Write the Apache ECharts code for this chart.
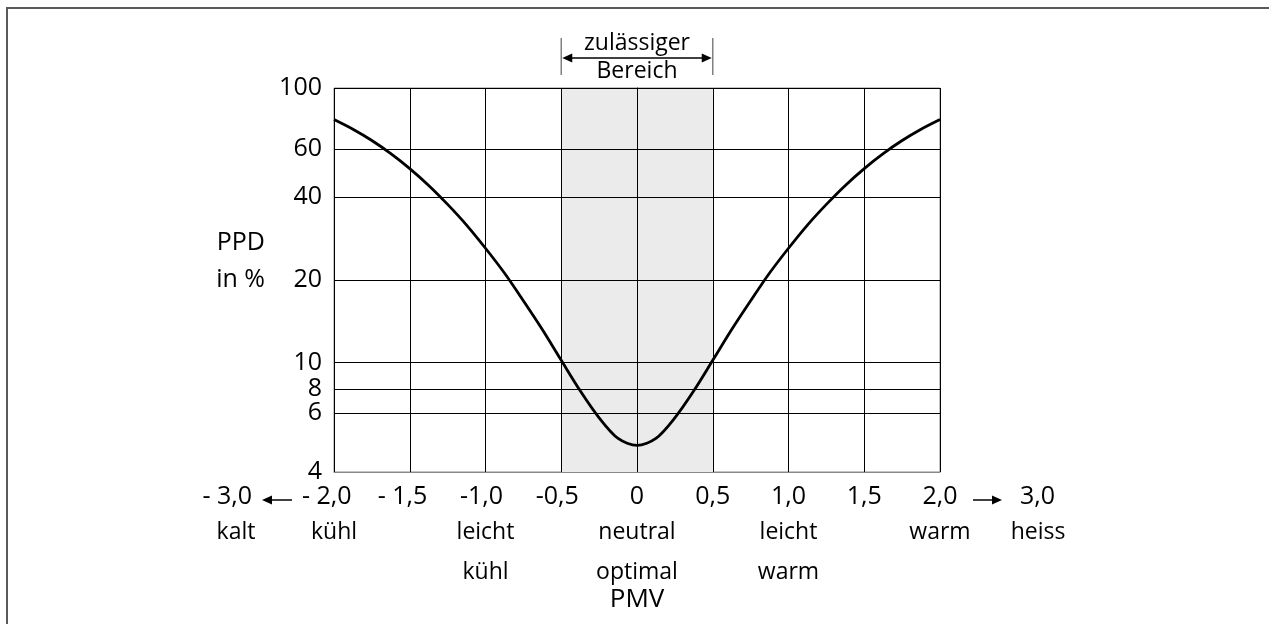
<!DOCTYPE html>
<html><head><meta charset="utf-8">
<script src="https://cdn.jsdelivr.net/npm/echarts@6/dist/echarts.min.js"></script>
<style>html,body{margin:0;padding:0;background:#fff}#c{width:1269px;height:624px}</style>
</head><body><div id="c"></div>
<script>
// ---- data ----
const pmv = [-2, -1.875, -1.75, -1.625, -1.5, -1.375, -1.25, -1.125, -1, -0.875, -0.75, -0.625, -0.5, -0.375, -0.25, -0.125, 0,
             0.125, 0.25, 0.375, 0.5, 0.625, 0.75, 0.875, 1, 1.125, 1.25, 1.375, 1.5, 1.625, 1.75, 1.875, 2];
const ppd = [76.8, 70.8, 64.4, 57.7, 50.9, 44.2, 37.7, 31.7, 26.1, 21.2, 16.8, 13.2, 10.2, 7.9, 6.3, 5.3, 5.0,
             5.3, 6.3, 7.9, 10.2, 13.2, 16.8, 21.2, 26.1, 31.7, 37.7, 44.2, 50.9, 57.7, 64.4, 70.8, 76.8];
const xTickValues = [-2, -1.5, -1, -0.5, 0, 0.5, 1, 1.5, 2];
const xTickLabels = ['- 2,0', '- 1,5', '-1,0', '-0,5', '0', '0,5', '1,0', '1,5', '2,0'];
const xTickWords  = [['kühl'], [], ['leicht', 'kühl'], [], ['neutral', 'optimal'], [], ['leicht', 'warm'], [], ['warm']];
const xOuterLeft  = ['- 3,0', 'kalt'];
const xOuterRight = ['3,0', 'heiss'];
const yTickValues = [4, 6.55, 8, 10, 20, 40, 60, 100];
const yTickLabels = ['4', '6', '8', '10', '20', '40', '60', '100'];
const bandRange = [-0.5, 0.5];
const bandText = ['zulässiger', 'Bereich'];
const yNameLines = ['PPD', 'in %'];
const xName = 'PMV';

// ---- chart ----
const FONT = '"Open Sans", "Noto Sans", sans-serif';
const NUM = 25, WORD = 23;
const cv = document.createElement('canvas').getContext('2d');
cv.font = NUM + 'px "Open Sans"';
const wDash = cv.measureText('-').width;
const wDashSp = cv.measureText('- ').width;

const chart = echarts.init(document.getElementById('c'), null, {renderer: 'canvas'});
const seriesData = pmv.map((x, i) => [x, ppd[i]]);

function xLabel(value) {
  const i = xTickValues.findIndex(v => Math.abs(v - value) < 1e-6);
  if (i < 0) return '';
  const lab = xTickLabels[i];
  let first;
  if (lab.startsWith('- ')) first = '{p2|' + lab + '}';
  else if (lab.startsWith('-')) first = '{p1|' + lab + '}';
  else first = '{n|' + lab + '}';
  const words = xTickWords[i].map(w => '{w|' + w + '}');
  return [first].concat(words).join('\n');
}

chart.setOption({
  animation: false,
  backgroundColor: '#fff',
  textStyle: {fontFamily: FONT},
  grid: {left: 334, right: 329, top: 88, bottom: 152, show: true, borderColor: '#888', borderWidth: 1, backgroundColor: 'transparent'},
  xAxis: {
    type: 'value', min: -2, max: 2, interval: 0.5, z: 3,
    axisLine: {show: true, lineStyle: {color: '#888', width: 1}},
    axisTick: {show: false},
    splitLine: {show: true, lineStyle: {color: '#000', width: 1}},
    axisLabel: {
      margin: 10, color: '#000', fontFamily: FONT,
      formatter: xLabel,
      rich: {
        n: {fontSize: NUM, lineHeight: 30, fontFamily: FONT, color: '#000'},
        p1: {fontSize: NUM, lineHeight: 30, fontFamily: FONT, color: '#000', padding: [0, wDash, 0, 0]},
        p2: {fontSize: NUM, lineHeight: 30, fontFamily: FONT, color: '#000', padding: [0, wDashSp, 0, 0]},
        w: {fontSize: WORD, lineHeight: 40, fontFamily: FONT, color: '#000'}
      }
    },
    name: xName, nameLocation: 'middle', nameGap: 113, nameMoveOverlap: false,
    nameTextStyle: {fontSize: 26, lineHeight: 30, color: '#000', fontFamily: FONT}
  },
  yAxis: {
    type: 'log', logBase: 10, min: 4, max: 100, z: 3,
    axisLine: {show: true, lineStyle: {color: '#000', width: 1}},
    axisTick: {show: false, customValues: yTickValues},
    splitLine: {show: true, lineStyle: {color: '#000', width: 1}},
    axisLabel: {
      customValues: yTickValues, margin: 12, color: '#000', fontSize: NUM, fontFamily: FONT,
      formatter: function (value) {
        let best = 0, d = Infinity;
        yTickValues.forEach((v, i) => { const dd = Math.abs(Math.log(v) - Math.log(value)); if (dd < d) { d = dd; best = i; } });
        return yTickLabels[best];
      }
    },
    // third (empty) line keeps "in %" level with the middle of the axis
    name: '{a|' + yNameLines[0] + '}\n{a|' + yNameLines[1] + '}\n{a| }',
    nameLocation: 'middle', nameRotate: 0, nameGap: 69, nameMoveOverlap: false,
    nameTextStyle: {color: '#000', fontFamily: FONT, align: 'right', verticalAlign: 'middle',
      rich: {a: {fontSize: 25, lineHeight: 37, color: '#000', fontFamily: FONT}}}
  },
  series: [
    {
      type: 'line', data: [], z: 1, silent: true,
      markArea: {silent: true, itemStyle: {color: '#ebebeb'}, data: [[{xAxis: bandRange[0]}, {xAxis: bandRange[1]}]]}
    },
    {
      type: 'line', data: seriesData, z: 5, smooth: 0.3, symbol: 'none', silent: true,
      lineStyle: {color: '#000', width: 2.8}
    }
  ]
});

// ---- annotations positioned from the axes ----
const pL = chart.convertToPixel({gridIndex: 0}, [xTickValues[0], 4]);
const pR = chart.convertToPixel({gridIndex: 0}, [xTickValues[xTickValues.length - 1], 4]);
const b0 = chart.convertToPixel({gridIndex: 0}, [bandRange[0], 100]);
const b1 = chart.convertToPixel({gridIndex: 0}, [bandRange[1], 100]);
const bc = chart.convertToPixel({gridIndex: 0}, [(bandRange[0] + bandRange[1]) / 2, 100]);
const rowNum = pL[1] + 27, rowWord = pL[1] + 60;
const arrowY = pL[1] + 28;

function txt(t, x, y, size, align) {
  return {type: 'text', x: x, y: y, silent: true,
    style: {text: t, fill: '#000', font: size + 'px ' + FONT, align: align, textAlign: align, verticalAlign: 'middle', textVerticalAlign: 'middle'}};
}
function arrow(xFrom, xTo, y) { // head at xTo
  const dir = xTo > xFrom ? 1 : -1;
  return [
    {type: 'line', silent: true, shape: {x1: xFrom, y1: y, x2: xTo - dir * 6, y2: y}, style: {stroke: '#000', lineWidth: 1.5}},
    {type: 'polygon', silent: true, shape: {points: [[xTo, y], [xTo - dir * 10, y - 4.5], [xTo - dir * 10, y + 4.5]]}, style: {fill: '#000'}}
  ];
}

const topY = b0[1];
const g = [
  {type: 'polyline', silent: true, shape: {points: [[7, 700], [7, 8], [1300, 8]]}, style: {stroke: '#5a5a5a', lineWidth: 2, fill: null}},
  txt(xOuterLeft[0], pL[0] - 82, rowNum - 2, NUM, 'right'),
  txt(xOuterLeft[1], pL[0] - 98, rowWord, WORD, 'center'),
  txt(xOuterRight[0], pR[0] + 80, rowNum - 2, NUM, 'left'),
  txt(xOuterRight[1], pR[0] + 98, rowWord, WORD, 'center'),
  ...arrow(pL[0] - 42, pL[0] - 72, arrowY),
  ...arrow(pR[0] + 33, pR[0] + 62, arrowY),
  {type: 'line', silent: true, shape: {x1: b0[0], y1: topY - 50, x2: b0[0], y2: topY - 13}, style: {stroke: '#808080', lineWidth: 1.5}},
  {type: 'line', silent: true, shape: {x1: b1[0], y1: topY - 50, x2: b1[0], y2: topY - 13}, style: {stroke: '#808080', lineWidth: 1.5}},
  ...arrow(bc[0], b0[0] + 1, topY - 30),
  ...arrow(bc[0], b1[0] - 1, topY - 30),
  txt(bandText[0], bc[0], topY - 45, WORD, 'center'),
  txt(bandText[1], bc[0], topY - 17, WORD, 'center')
];
chart.setOption({graphic: g});
</script>
</body></html>
